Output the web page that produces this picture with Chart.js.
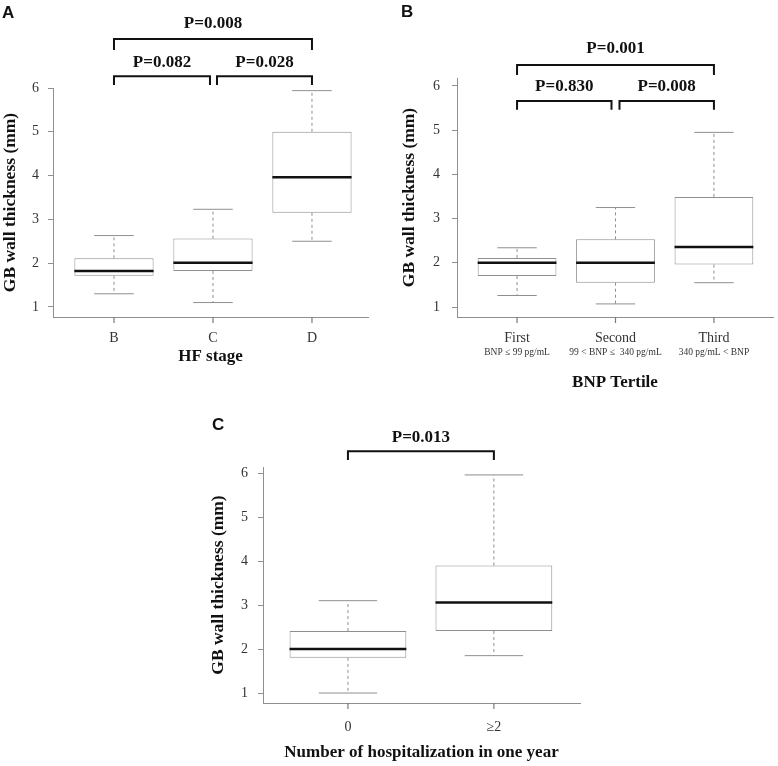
<!DOCTYPE html>
<html>
<head>
<meta charset="utf-8">
<script src="https://cdn.jsdelivr.net/npm/chart.js@4.4.1/dist/chart.umd.min.js"></script>
<style>
  html, body { margin: 0; padding: 0; background: #fff; }
  #wrap { position: relative; width: 778px; height: 766px; }
  .panel { position: absolute; }
  .tag { position: absolute; font: bold 17px 'Liberation Sans', Arial, sans-serif; line-height: 17px; color: #111; }
</style>
</head>
<body>
<div id="wrap">
  <div class="panel" style="left:0;top:0;width:389px;height:400px"><canvas id="chartA"></canvas></div>
  <div class="panel" style="left:389px;top:0;width:389px;height:400px"><canvas id="chartB"></canvas></div>
  <div class="panel" style="left:190px;top:400px;width:400px;height:366px"><canvas id="chartC"></canvas></div>
  <div class="tag" style="left:2px;top:4px">A</div>
  <div class="tag" style="left:401px;top:3px">B</div>
  <div class="tag" style="left:212px;top:416px">C</div>
</div>
<script>
// y axis ticks shared by all panels
const yTicks = [1, 2, 3, 4, 5, 6];

// panel A - HF stage
const stagesA = ['B', 'C', 'D'];
const lowA = [1.30, 1.10, 2.50];
const q1A = [1.71, 1.82, 3.15];
const medA = [1.82, 2.01, 3.96];
const q3A = [2.11, 2.56, 5.00];
const highA = [2.63, 3.23, 5.94];
const pairsA = [[1, 2], [2, 3], [1, 3]];
const pLabelsA = ['P=0.082', 'P=0.028', 'P=0.008'];

// panel B - BNP tertile
const tertilesB = ['First', 'Second', 'Third'];
const rangesB = ['BNP \u2264 99 pg/mL', '99 < BNP \u2264  340 pg/mL', '340 pg/mL < BNP'];
const lowB = [1.26, 1.07, 1.55];
const q1B = [1.70, 1.55, 1.96];
const medB = [2.00, 2.00, 2.36];
const q3B = [2.11, 2.53, 3.49];
const highB = [2.34, 3.25, 4.95];
const pairsB = [[1, 2], [2, 3], [1, 3]];
const pLabelsB = ['P=0.830', 'P=0.008', 'P=0.001'];

// panel C - hospitalizations
const groupsC = ['0', '\u22652'];
const lowC = [1.00, 1.85];
const q1C = [1.80, 2.41];
const medC = [2.00, 3.06];
const q3C = [2.41, 3.90];
const highC = [3.10, 5.96];
const pairsC = [[1, 2]];
const pLabelsC = ['P=0.013'];

const SERIF = "'Liberation Serif', 'Times New Roman', serif";
const GREY = '#8f8f8f';

// whiskers, caps and medians on top of the floating bars
const boxPartsPlugin = {
  id: 'boxParts',
  afterDatasetsDraw(chart) {
    const ds = chart.data.datasets[0];
    const meta = chart.getDatasetMeta(0);
    const y = chart.scales.y;
    const ctx = chart.ctx;
    ctx.save();
    meta.data.forEach((bar, i) => {
      const cx = bar.x;
      const half = bar.width / 2;
      const yLow = y.getPixelForValue(ds.low[i]);
      const yHigh = y.getPixelForValue(ds.high[i]);
      const yQ1 = y.getPixelForValue(ds.data[i].y[0]);
      const yQ3 = y.getPixelForValue(ds.data[i].y[1]);
      const yMed = y.getPixelForValue(ds.med[i]);

      ctx.strokeStyle = GREY;
      ctx.lineWidth = 1;
      ctx.setLineDash([3, 3]);
      ctx.beginPath();
      ctx.moveTo(cx, yQ3); ctx.lineTo(cx, yHigh);
      ctx.moveTo(cx, yQ1); ctx.lineTo(cx, yLow);
      ctx.stroke();

      ctx.setLineDash([]);
      ctx.beginPath();
      ctx.moveTo(cx - half / 2, yHigh); ctx.lineTo(cx + half / 2, yHigh);
      ctx.moveTo(cx - half / 2, yLow); ctx.lineTo(cx + half / 2, yLow);
      ctx.stroke();

      ctx.strokeStyle = '#111';
      ctx.lineWidth = 2.5;
      ctx.beginPath();
      ctx.moveTo(cx - half, yMed); ctx.lineTo(cx + half, yMed);
      ctx.stroke();
    });
    ctx.restore();
  }
};

// significance brackets, x tick marks and second-line x labels
const annotPlugin = {
  id: 'annot',
  afterDraw(chart, args, opts) {
    const ctx = chart.ctx;
    const x = chart.scales.x;
    const y = chart.scales.y;
    ctx.save();

    // tick marks under the categories
    ctx.strokeStyle = '#7a7a7a';
    ctx.lineWidth = 1.2;
    ctx.setLineDash([]);
    ctx.beginPath();
    x.ticks.forEach(t => {
      const px = x.getPixelForValue(t.value);
      ctx.moveTo(px, x.top);
      ctx.lineTo(px, x.top + 6);
    });
    ctx.stroke();

    ctx.strokeStyle = '#111';
    ctx.fillStyle = '#111';
    ctx.lineWidth = 2;
    opts.pairs.forEach((pair, i) => {
      const lv = opts.levels[i];
      let x1 = x.getPixelForValue(pair[0]);
      let x2 = x.getPixelForValue(pair[1]);
      if (lv.gapL) x1 += lv.gapL;
      if (lv.gapR) x2 -= lv.gapR;
      const yTop = y.getPixelForValue(lv.top);
      const yLeg = y.getPixelForValue(lv.leg);
      ctx.beginPath();
      ctx.moveTo(x1, yLeg);
      ctx.lineTo(x1, yTop);
      ctx.lineTo(x2, yTop);
      ctx.lineTo(x2, yLeg);
      ctx.stroke();
      ctx.font = 'bold 17px ' + SERIF;
      ctx.textAlign = 'center';
      ctx.textBaseline = 'middle';
      ctx.fillText(opts.labels[i], (x1 + x2) / 2, y.getPixelForValue(lv.text));
    });
    if (opts.sub) {
      ctx.font = '9.5px ' + SERIF;
      ctx.fillStyle = '#333';
      ctx.textAlign = 'center';
      ctx.textBaseline = 'middle';
      opts.sub.forEach((s, i) => {
        ctx.fillText(s, x.getPixelForValue(i + 1), x.top + 35);
      });
    }
    ctx.restore();
  }
};

function makeBoxChart(id, o) {
  const points = o.cats.map((c, i) => ({ x: i + 1, y: [o.q1[i], o.q3[i]] }));
  return new Chart(document.getElementById(id).getContext('2d'), {
    type: 'bar',
    data: {
      datasets: [{
        data: points,
        low: o.low,
        med: o.med,
        high: o.high,
        backgroundColor: '#fff',
        borderColor: GREY,
        borderWidth: 1,
        borderSkipped: false,
        categoryPercentage: 1,
        barPercentage: 0.8
      }]
    },
    options: {
      responsive: true,
      maintainAspectRatio: false,
      animation: false,
      events: [],
      layout: { padding: o.padding },
      plugins: {
        legend: { display: false },
        tooltip: { enabled: false },
        annot: { pairs: o.pairs, labels: o.pLabels, levels: o.levels, sub: o.sub }
      },
      scales: {
        x: {
          type: 'linear',
          offset: false,
          min: o.xMin,
          max: o.xMax,
          afterBuildTicks: s => { s.ticks = o.cats.map((c, i) => ({ value: i + 1 })); },
          afterFit: s => { s.height = o.xHeight; },
          ticks: {
            callback: v => o.cats[v - 1],
            color: '#333',
            font: { family: SERIF, size: 14 },
            padding: o.xTickPad,
            maxRotation: 0,
            autoSkip: false
          },
          grid: { drawOnChartArea: false, drawTicks: true, tickLength: 5, color: 'rgba(0,0,0,0)' },
          border: { display: true, color: GREY, width: 1 },
          title: {
            display: true,
            text: o.xTitle,
            color: '#111',
            font: { family: SERIF, size: 17, weight: 'bold' },
            padding: { top: 0, bottom: o.xTitlePad }
          }
        },
        y: {
          min: o.yMin,
          max: o.yMax,
          afterBuildTicks: s => { s.ticks = yTicks.map(v => ({ value: v })); },
          afterFit: s => { s.width = o.yWidth; },
          ticks: {
            color: '#333',
            font: { family: SERIF, size: 14 },
            padding: o.yTickPad
          },
          grid: { drawOnChartArea: false, drawTicks: true, tickLength: 5, color: GREY },
          border: { display: true, color: GREY, width: 1 },
          title: {
            display: true,
            text: 'GB wall thickness (mm)',
            color: '#111',
            font: { family: SERIF, size: 17.5, weight: 'bold' },
            padding: { top: o.yTitlePad, bottom: 0 }
          }
        }
      }
    },
    plugins: [boxPartsPlugin, annotPlugin]
  });
}

makeBoxChart('chartA', {
  cats: stagesA, low: lowA, q1: q1A, med: medA, q3: q3A, high: highA,
  pairs: pairsA, pLabels: pLabelsA,
  levels: [
    { top: 6.27, leg: 6.07, text: 6.59, gapR: 3 },
    { top: 6.27, leg: 6.07, text: 6.59, gapL: 4 },
    { top: 7.12, leg: 6.87, text: 7.46 }
  ],
  padding: { top: 88, right: 21, bottom: 0, left: 0 },
  xMin: 0.384, xMax: 3.566, yMin: 0.77, yMax: 6.0,
  xHeight: 83, yWidth: 53, xTickPad: 8, yTickPad: 9,
  xTitle: 'HF stage', xTitlePad: 32.8, yTitlePad: 0
});

makeBoxChart('chartB', {
  cats: tertilesB, low: lowB, q1: q1B, med: medB, q3: q3B, high: highB,
  pairs: pairsB, pLabels: pLabelsB, sub: rangesB,
  levels: [
    { top: 5.66, leg: 5.46, text: 5.98, gapR: 4 },
    { top: 5.66, leg: 5.46, text: 5.98, gapL: 4 },
    { top: 6.475, leg: 6.25, text: 6.84 }
  ],
  padding: { top: 78, right: 5, bottom: 0, left: 0 },
  xMin: 0.39, xMax: 3.6, yMin: 0.774, yMax: 6.18,
  xHeight: 83, yWidth: 68, xTickPad: 8, yTickPad: 12,
  xTitle: 'BNP Tertile', xTitlePad: 6.8, yTitlePad: 9.5
});

makeBoxChart('chartC', {
  cats: groupsC, low: lowC, q1: q1C, med: medC, q3: q3C, high: highC,
  pairs: pairsC, pLabels: pLabelsC,
  levels: [
    { top: 6.5, leg: 6.3, text: 6.8 }
  ],
  padding: { top: 67, right: 10, bottom: 0, left: 0 },
  xMin: 0.418, xMax: 2.59, yMin: 0.773, yMax: 6.14,
  xHeight: 63, yWidth: 73, xTickPad: 11, yTickPad: 10,
  xTitle: 'Number of hospitalization in one year', xTitlePad: 2.8, yTitlePad: 18
});
</script>
</body>
</html>
